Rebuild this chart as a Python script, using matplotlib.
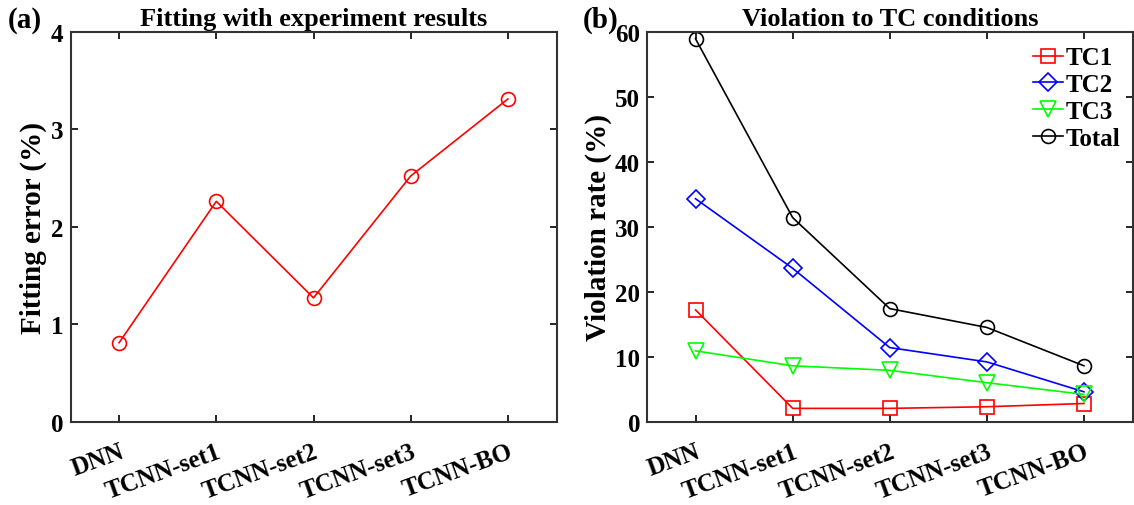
import numpy as np
import matplotlib
matplotlib.use("Agg")
import matplotlib.pyplot as plt

plt.rcParams["font.family"] = ["Liberation Serif", "DejaVu Serif"]
plt.rcParams["font.weight"] = "bold"
plt.rcParams["axes.titleweight"] = "bold"
plt.rcParams["axes.labelweight"] = "bold"

models = ["DNN", "TCNN-set1", "TCNN-set2", "TCNN-set3", "TCNN-BO"]

# (a) fitting error (%)
fit_err = [0.81, 2.26, 1.27, 2.52, 3.31]

# (b) violation rate (%)
tc1 = [17.2, 2.05, 2.05, 2.3, 2.8]
tc2 = [34.3, 23.6, 11.4, 9.2, 4.6]
tc3 = [10.9, 8.6, 7.9, 6.0, 4.2]
total = [58.9, 31.4, 17.4, 14.5, 8.6]

W, H = 1134, 506


def style_axes(ax):
    for s in ax.spines.values():
        s.set_linewidth(1.5)
        s.set_color("#333333")
    ax.tick_params(direction="in", top=True, right=True, length=5, width=1.2,
                   labelsize=18, pad=5)
    ax.tick_params(axis="x", pad=13)
    ax.set_xticks(np.arange(1, 6))
    ax.set_xticklabels(models, rotation=20, ha="right", va="top",
                       rotation_mode="anchor", fontsize=18)
    ax.set_xlim(0.5, 5.5)


fig = plt.figure(figsize=(W / 100, H / 100), dpi=100)
ax1 = fig.add_axes([70.5 / W, 1 - 422.7 / H, 486 / W, 390 / H])
ax2 = fig.add_axes([647 / W, 1 - 422.7 / H, 485.5 / W, 390 / H])

x = np.arange(1, 6)

ax1.plot(x, fit_err, "-o", color="red", mfc="none", ms=10, lw=1.2, mew=1.2)
ax1.set_ylim(0, 4)
ax1.set_yticks([0, 1, 2, 3, 4])
style_axes(ax1)
ax1.set_ylabel("Fitting error (%)", fontsize=21, labelpad=3)
ax1.set_title("Fitting with experiment results", fontsize=19, pad=5)
fig.text(8 / W, 1 - 28 / H, "(a)", fontsize=21)

ax2.plot(x, tc1, "-s", color="red", mfc="none", ms=10, lw=1.2, mew=1.2, label="TC1")
ax2.plot(x, tc2, "-D", color="blue", mfc="none", ms=9, lw=1.2, mew=1.2, label="TC2")
ax2.plot(x, tc3, "-v", color="#00ff00", mfc="none", ms=11, lw=1.2, mew=1.2, label="TC3")
ax2.plot(x, total, "-o", color="black", mfc="none", ms=10, lw=1.2, mew=1.2, label="Total")
ax2.set_ylim(0, 60)
ax2.set_yticks(np.arange(0, 61, 10))
style_axes(ax2)
ax2.set_ylabel("Violation rate (%)", fontsize=21, labelpad=2)
ax2.set_title("Violation to TC conditions", fontsize=19, pad=5)
fig.text(583 / W, 1 - 28 / H, "(b)", fontsize=21)
ax2.legend(loc="upper right", frameon=False, fontsize=18, handlelength=1.2,
           handletextpad=0.1, labelspacing=0.15, borderaxespad=0, borderpad=0.2,
           bbox_to_anchor=(0.985, 0.975))

fig.savefig("out.png", dpi=100)
